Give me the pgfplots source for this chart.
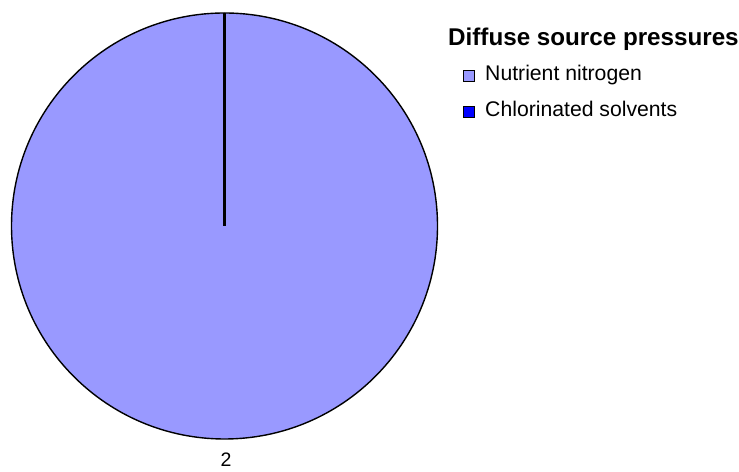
\documentclass[border=0pt]{standalone}
\usepackage{pgfplots}
\pgfplotsset{compat=1.18}
\usepackage{pgfplotstable}
\usetikzlibrary{calc}
\usepackage{fontspec}
\setmainfont{Liberation Sans}
\definecolor{nitro}{RGB}{153,153,255}
\definecolor{chloro}{RGB}{0,0,255}
\pgfplotstableread{
label value
Nutrient 2
Chlorinated 0
}\piedata
\begin{document}
\begin{tikzpicture}
\pgfplotstablegetelem{0}{value}\of\piedata \pgfmathsetmacro{\va}{\pgfplotsretval}
\pgfplotstablegetelem{1}{value}\of\piedata \pgfmathsetmacro{\vb}{\pgfplotsretval}
\pgfmathsetmacro{\tot}{\va+\vb}
\pgfmathsetmacro{\aA}{90-360*\va/\tot}
\pgfmathsetmacro{\aB}{\aA-360*\vb/\tot}
\pgfmathsetmacro{\mA}{(90+\aA)/2}
\begin{axis}[x=1bp,y=1bp,xmin=0,xmax=739,ymin=0,ymax=472,hide axis,clip=false,scale only axis,
  /pgf/number format/assume math mode=true]
\path (axis cs:0,0) rectangle (axis cs:739,472);
% nutrient slice
\fill[nitro,draw=black,line width=1.4bp] (axis cs:224.5,246) -- ++(90:213bp) arc[start angle=90,end angle=\aA,radius=213bp] -- cycle;
% chlorinated slice (zero)
\fill[chloro,draw=black,line width=1.4bp] (axis cs:224.5,246) -- ++(\aA:213bp) arc[start angle=\aA,end angle=\aB,radius=213bp] -- cycle;
\draw[black,line width=2.6bp] (axis cs:224.5,246) -- ++(\aA:213bp);
\node[font=\fontsize{19.5bp}{22bp}\selectfont,anchor=center] at ($(axis cs:226,246)+(\mA:234bp)$) {\pgfmathprintnumber{\va}};
% legend
\node[anchor=base west,font=\fontsize{24.2bp}{27bp}\selectfont\bfseries,inner sep=0pt] at (axis cs:448,426) {Diffuse source pressures};
\filldraw[fill=nitro,draw=black,line width=0.8bp] (axis cs:463,391) rectangle (axis cs:474,402);
\node[anchor=base west,font=\fontsize{21.2bp}{24bp}\selectfont,inner sep=0pt] at (axis cs:485,391) {Nutrient nitrogen};
\filldraw[fill=chloro,draw=black,line width=0.8bp] (axis cs:463,355) rectangle (axis cs:474,366);
\node[anchor=base west,font=\fontsize{21.2bp}{24bp}\selectfont,inner sep=0pt] at (axis cs:485,355) {Chlorinated solvents};
\end{axis}
\end{tikzpicture}
\end{document}
